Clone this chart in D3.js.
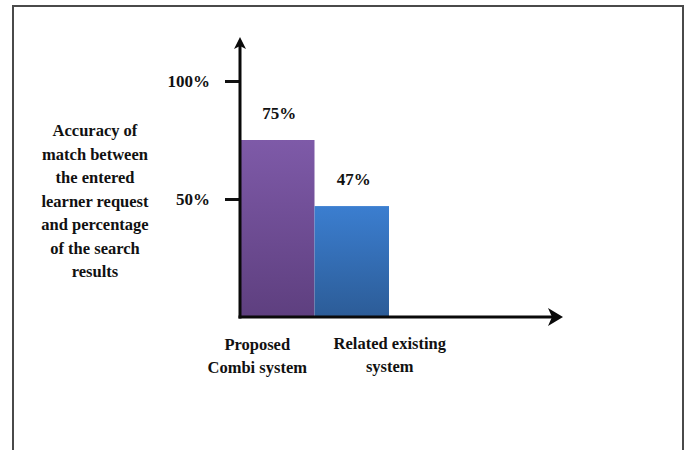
<!DOCTYPE html>
<html>
<head>
<meta charset="utf-8">
<script src="https://cdn.jsdelivr.net/npm/d3@7"></script>
<style>
  html, body { margin: 0; padding: 0; background: #fff; }
  svg { display: block; }
  text { font-family: "Liberation Serif", "Times New Roman", serif; font-weight: bold; fill: #111; }
</style>
</head>
<body>
<svg id="chart" width="688" height="450"></svg>
<script>
// ---- data ----
const categories = ["Proposed Combi system", "Related existing system"];
const categoryLines = [["Proposed", "Combi system"], ["Related existing", "system"]];
const values = [75, 47];
const valueLabels = ["75%", "47%"];
const tickValues = [50, 100];
const tickLabels = ["50%", "100%"];
const yTitleLines = ["Accuracy of", "match between", "the entered", "learner request", "and percentage", "of the search", "results"];

// ---- layout ----
const svg = d3.select("#chart");
const x0 = 240, x1 = 389, yBase = 317, yTop = 81;

// frame
svg.append("rect").attr("x", 13).attr("y", 6).attr("width", 670).attr("height", 470)
  .attr("fill", "none").attr("stroke", "#4a4a4a").attr("stroke-width", 2);

const x = d3.scaleBand().domain(categories).range([x0, x1]).padding(0);
const y = d3.scaleLinear().domain([0, 100]).range([yBase, yTop]);

// gradients
const defs = svg.append("defs");
const grads = [["gPurple", "#7e5aa8", "#5e3f7f"], ["gBlue", "#3b7ed0", "#2c5c97"]];
grads.forEach(([id, c1, c2]) => {
  const g = defs.append("linearGradient").attr("id", id).attr("x1", 0).attr("y1", 0).attr("x2", 0).attr("y2", 1);
  g.append("stop").attr("offset", "0%").attr("stop-color", c1);
  g.append("stop").attr("offset", "100%").attr("stop-color", c2);
});
const fills = ["url(#gPurple)", "url(#gBlue)"];

// bars
svg.append("g").selectAll("rect").data(values).join("rect")
  .attr("x", (d, i) => x(categories[i]))
  .attr("y", d => y(d))
  .attr("width", x.bandwidth())
  .attr("height", d => y(0) - y(d))
  .attr("fill", (d, i) => fills[i]);

// value labels
svg.append("g").selectAll("text").data(values).join("text")
  .attr("x", (d, i) => x(categories[i]) + x.bandwidth() / 2 + 2)
  .attr("y", d => y(d) - 21)
  .attr("text-anchor", "middle")
  .attr("font-size", 17)
  .text((d, i) => valueLabels[i]);

// y axis ticks
const yAxis = d3.axisLeft(y).tickValues(tickValues).tickSize(15).tickPadding(15)
  .tickFormat(d => tickLabels[tickValues.indexOf(d)]);
const gy = svg.append("g").attr("transform", `translate(${x0},0)`).call(yAxis);
gy.select(".domain").remove();
gy.selectAll(".tick line").attr("stroke", "#111").attr("stroke-width", 3);
gy.selectAll(".tick text").attr("font-size", 17).attr("fill", "#111")
  .style("font-family", '"Liberation Serif", serif').style("font-weight", "bold");

// axes with arrows
const axisColor = "#0a0a0a";
svg.append("line").attr("x1", x0).attr("y1", yBase + 1.5).attr("x2", x0).attr("y2", 46)
  .attr("stroke", axisColor).attr("stroke-width", 3);
svg.append("path").attr("d", `M${x0},37 L${x0 + 6},49 L${x0},46 L${x0 - 6},49 Z`).attr("fill", axisColor);
svg.append("line").attr("x1", x0 - 1.5).attr("y1", yBase).attr("x2", 554).attr("y2", yBase)
  .attr("stroke", axisColor).attr("stroke-width", 3);
svg.append("path").attr("d", `M563,${yBase} L548,${yBase - 9} L552,${yBase} L548,${yBase + 9} Z`).attr("fill", axisColor);

// category labels
const labelShift = [-20, 38];
categories.forEach((c, i) => {
  const cx = x(c) + x.bandwidth() / 2 + labelShift[i];
  const t = svg.append("text")
    .attr("x", cx)
    .attr("y", 350 - (i ? 1 : 0))
    .attr("text-anchor", "middle").attr("font-size", 16.5);
  categoryLines[i].forEach((ln, j) => {
    t.append("tspan").attr("x", cx).attr("dy", j ? 23 : 0).text(ln);
  });
});

// y title
const title = svg.append("text").attr("x", 95).attr("y", 136).attr("text-anchor", "middle").attr("font-size", 16.5);
yTitleLines.forEach((ln, j) => {
  title.append("tspan").attr("x", 95).attr("dy", j ? 23.5 : 0).text(ln);
});
</script>
</body>
</html>
